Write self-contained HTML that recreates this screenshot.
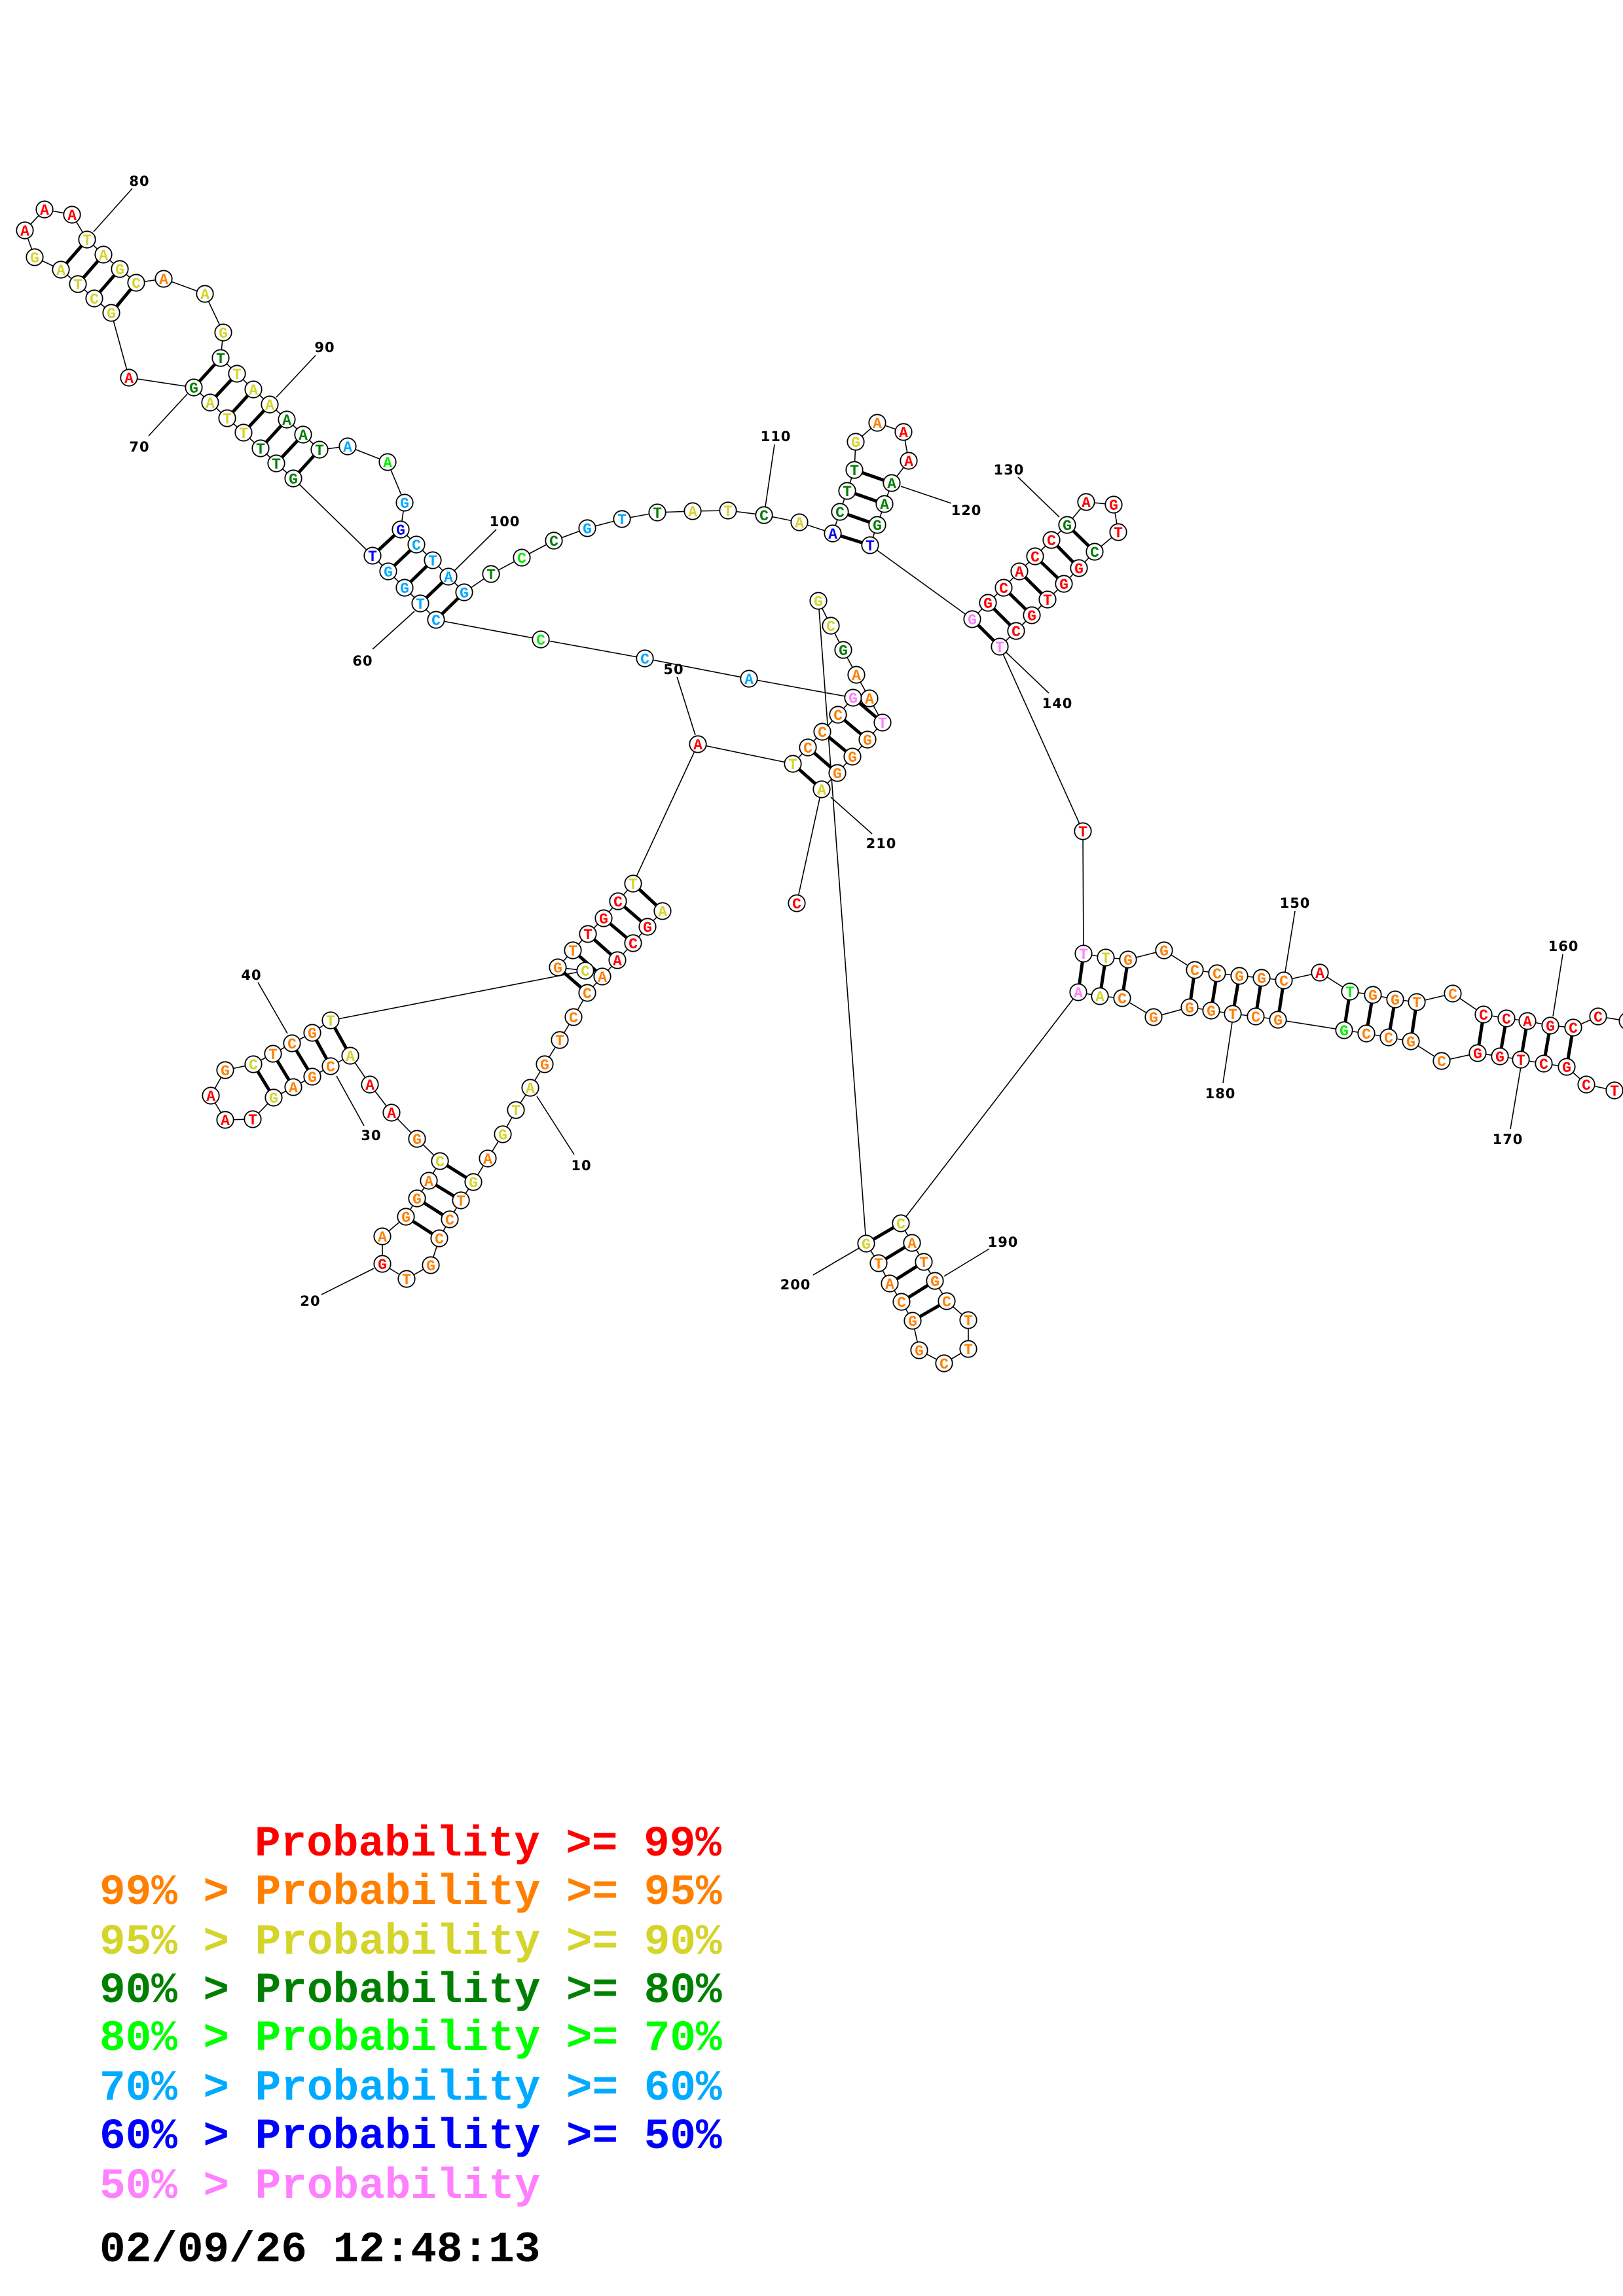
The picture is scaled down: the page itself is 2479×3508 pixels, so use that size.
<!DOCTYPE html>
<html><head><meta charset="utf-8"><style>
html,body{margin:0;padding:0;background:#fff;}
svg{display:block;}
.bb{fill:none;stroke:#000;stroke-width:1.6;}
.pr line{stroke:#000;stroke-width:5;}
.lb line{stroke:#000;stroke-width:1.6;}
circle{fill:#fff;stroke:#000;stroke-width:1.8;}
.n text{font-family:"Liberation Mono",monospace;font-weight:bold;font-size:23px;text-anchor:middle;}
.r{fill:#ff0000}.o{fill:#ff8000}.y{fill:#d4d42a}.g{fill:#008000}.l{fill:#00ee00}.c{fill:#00aaff}.b{fill:#0000ff}.p{fill:#ff80ff}
.lt{font-family:"DejaVu Sans","Liberation Sans",sans-serif;font-weight:bold;font-size:21px;text-anchor:middle;letter-spacing:1px;}
.lg{font-family:"Liberation Mono",monospace;font-weight:bold;font-size:66px;}
</style></head><body>
<svg width="2479" height="3508" viewBox="0 0 2479 3508" xmlns="http://www.w3.org/2000/svg">
<rect width="2479" height="3508" fill="#fff"/>
<polyline class="bb" points="1012,1392 989,1416 967,1441 943,1467 920,1492 897,1517 876,1554 855,1589 832,1626 810,1662 788,1696 768,1733 745,1770 723,1806 704,1834 687,1863 671,1892 658,1933 621,1954 584,1931 584,1889 620,1859 637,1831 655,1804 672,1774 637,1740 598,1700 565,1657 535,1613 505,1629 477,1645 448,1661 418,1677 386,1710 344,1711 322,1674 344,1635 387,1626 417,1610 446,1594 477,1578 505,1559 894,1483 852,1478 875,1452 898,1427 922,1403 944,1377 967,1350 1066,1137 1211,1167 1234,1142 1256,1118 1280,1092 1303,1066 1144,1037 985,1006 826,977 666,947 642,922 618,898 593,873 569,849 448,731 422,708 398,685 372,661 347,639 321,615 296,592 197,577 170,478 144,456 119,434 93,412 53,393 38,352 68,320 110,328 133,366 158,389 183,411 208,432 250,426 313,449 341,508 337,547 362,571 387,595 412,618 438,641 463,664 488,687 531,682 592,706 618,768 612,809 636,832 661,856 685,881 709,905 750,877 797,852 846,826 897,807 950,793 1004,783 1058,781 1112,780 1167,787 1221,798 1272,815 1283,782 1294,750 1305,718 1307,675 1340,646 1380,660 1388,704 1362,738 1351,770 1340,802 1329,833 1485,946 1509,921 1533,898 1557,873 1581,850 1606,825 1630,802 1659,767 1701,771 1708,813 1672,843 1648,868 1625,892 1600,916 1576,940 1552,964 1527,988 1654,1270 1655,1457 1689,1463 1723,1466 1778,1452 1825,1482 1859,1487 1893,1491 1927,1494 1961,1498 2016,1486 2062,1515 2097,1520 2131,1527 2164,1531 2219,1518 2266,1550 2301,1556 2333,1560 2368,1567 2403,1570 2441,1553 2486,1560 2525,1610 2505,1672 2466,1666 2423,1657 2393,1630 2358,1625 2323,1619 2291,1614 2257,1609 2202,1621 2155,1591 2121,1585 2087,1579 2053,1574 1952,1558 1918,1553 1883,1549 1850,1544 1817,1539 1762,1554 1714,1525 1680,1522 1647,1516 1376,1869 1393,1899 1411,1928 1428,1957 1446,1988 1479,2017 1479,2061 1442,2083 1404,2063 1394,2018 1377,1989 1359,1961 1342,1930 1323,1900 1250,918 1269,956 1288,993 1308,1031 1328,1067 1348,1104 1325,1130 1302,1156 1279,1181 1255,1206 1217,1380"/>
<g class="pr">
<line x1="1012" y1="1392" x2="967" y2="1350"/><line x1="989" y1="1416" x2="944" y2="1377"/><line x1="967" y1="1441" x2="922" y2="1403"/><line x1="943" y1="1467" x2="898" y2="1427"/><line x1="920" y1="1492" x2="875" y2="1452"/><line x1="897" y1="1517" x2="852" y2="1478"/>
<line x1="723" y1="1806" x2="672" y2="1774"/><line x1="704" y1="1834" x2="655" y2="1804"/><line x1="687" y1="1863" x2="637" y2="1831"/><line x1="671" y1="1892" x2="620" y2="1859"/>
<line x1="535" y1="1613" x2="505" y2="1559"/><line x1="505" y1="1629" x2="477" y2="1578"/><line x1="477" y1="1645" x2="446" y2="1594"/><line x1="448" y1="1661" x2="417" y2="1610"/><line x1="418" y1="1677" x2="387" y2="1626"/>
<line x1="1211" y1="1167" x2="1255" y2="1206"/><line x1="1234" y1="1142" x2="1279" y2="1181"/><line x1="1256" y1="1118" x2="1302" y2="1156"/><line x1="1280" y1="1092" x2="1325" y2="1130"/><line x1="1303" y1="1066" x2="1348" y2="1104"/>
<line x1="666" y1="947" x2="709" y2="905"/><line x1="642" y1="922" x2="685" y2="881"/><line x1="618" y1="898" x2="661" y2="856"/><line x1="593" y1="873" x2="636" y2="832"/><line x1="569" y1="849" x2="612" y2="809"/>
<line x1="448" y1="731" x2="488" y2="687"/><line x1="422" y1="708" x2="463" y2="664"/><line x1="398" y1="685" x2="438" y2="641"/><line x1="372" y1="661" x2="412" y2="618"/><line x1="347" y1="639" x2="387" y2="595"/><line x1="321" y1="615" x2="362" y2="571"/><line x1="296" y1="592" x2="337" y2="547"/>
<line x1="170" y1="478" x2="208" y2="432"/><line x1="144" y1="456" x2="183" y2="411"/><line x1="119" y1="434" x2="158" y2="389"/><line x1="93" y1="412" x2="133" y2="366"/>
<line x1="1272" y1="815" x2="1329" y2="833"/><line x1="1283" y1="782" x2="1340" y2="802"/><line x1="1294" y1="750" x2="1351" y2="770"/><line x1="1305" y1="718" x2="1362" y2="738"/>
<line x1="1485" y1="946" x2="1527" y2="988"/><line x1="1509" y1="921" x2="1552" y2="964"/><line x1="1533" y1="898" x2="1576" y2="940"/><line x1="1557" y1="873" x2="1600" y2="916"/><line x1="1581" y1="850" x2="1625" y2="892"/><line x1="1606" y1="825" x2="1648" y2="868"/><line x1="1630" y1="802" x2="1672" y2="843"/>
<line x1="1655" y1="1457" x2="1647" y2="1516"/><line x1="1689" y1="1463" x2="1680" y2="1522"/><line x1="1723" y1="1466" x2="1714" y2="1525"/><line x1="1825" y1="1482" x2="1817" y2="1539"/><line x1="1859" y1="1487" x2="1850" y2="1544"/><line x1="1893" y1="1491" x2="1883" y2="1549"/><line x1="1927" y1="1494" x2="1918" y2="1553"/><line x1="1961" y1="1498" x2="1952" y2="1558"/>
<line x1="2062" y1="1515" x2="2053" y2="1574"/><line x1="2097" y1="1520" x2="2087" y2="1579"/><line x1="2131" y1="1527" x2="2121" y2="1585"/><line x1="2164" y1="1531" x2="2155" y2="1591"/>
<line x1="2266" y1="1550" x2="2257" y2="1609"/><line x1="2301" y1="1556" x2="2291" y2="1614"/><line x1="2333" y1="1560" x2="2323" y2="1619"/><line x1="2368" y1="1567" x2="2358" y2="1625"/><line x1="2403" y1="1570" x2="2393" y2="1630"/>
<line x1="1376" y1="1869" x2="1323" y2="1900"/><line x1="1393" y1="1899" x2="1342" y2="1930"/><line x1="1411" y1="1928" x2="1359" y2="1961"/><line x1="1428" y1="1957" x2="1377" y2="1989"/><line x1="1446" y1="1988" x2="1394" y2="2018"/>
</g>
<g class="lb">
<line x1="877" y1="1764" x2="820" y2="1675"/><line x1="491" y1="1978" x2="571" y2="1938"/><line x1="556" y1="1720" x2="514" y2="1644"/><line x1="394" y1="1501" x2="439" y2="1579"/><line x1="1034" y1="1034" x2="1062" y2="1123"/><line x1="569" y1="992" x2="633" y2="934"/><line x1="227" y1="666" x2="286" y2="602"/><line x1="202" y1="288" x2="143" y2="354"/><line x1="482" y1="543" x2="422" y2="607"/><line x1="758" y1="809" x2="694" y2="872"/><line x1="1183" y1="679" x2="1169" y2="774"/><line x1="1453" y1="769" x2="1376" y2="743"/><line x1="1555" y1="729" x2="1618" y2="790"/><line x1="1602" y1="1059" x2="1535" y2="995"/><line x1="1978" y1="1392" x2="1963" y2="1485"/><line x1="2387" y1="1458" x2="2372" y2="1553"/><line x1="2307" y1="1725" x2="2323" y2="1630"/><line x1="1868" y1="1655" x2="1882" y2="1562"/><line x1="1511" y1="1908" x2="1442" y2="1950"/><line x1="1242" y1="1948" x2="1312" y2="1907"/><line x1="1332" y1="1274" x2="1269" y2="1218"/>
</g>
<g class="lt">
<text x="888" y="1788">10</text><text x="474" y="1995">20</text><text x="567" y="1742">30</text><text x="384" y="1497">40</text><text x="1029" y="1030">50</text><text x="554" y="1017">60</text><text x="213" y="690">70</text><text x="213" y="284">80</text><text x="496" y="538">90</text><text x="771" y="804">100</text><text x="1185" y="674">110</text><text x="1476" y="787">120</text><text x="1541" y="725">130</text><text x="1615" y="1082">140</text><text x="1978" y="1387">150</text><text x="2388" y="1453">160</text><text x="2303" y="1748">170</text><text x="1864" y="1678">180</text><text x="1532" y="1905">190</text><text x="1215" y="1970">200</text><text x="1346" y="1296">210</text>
</g>
<g class="n">
<circle cx="1012" cy="1392" r="12.7"/><text class="y" x="1012" y="1400">A</text>
<circle cx="989" cy="1416" r="12.7"/><text class="r" x="989" y="1424">G</text>
<circle cx="967" cy="1441" r="12.7"/><text class="r" x="967" y="1449">C</text>
<circle cx="943" cy="1467" r="12.7"/><text class="r" x="943" y="1475">A</text>
<circle cx="920" cy="1492" r="12.7"/><text class="o" x="920" y="1500">A</text>
<circle cx="897" cy="1517" r="12.7"/><text class="o" x="897" y="1525">C</text>
<circle cx="876" cy="1554" r="12.7"/><text class="o" x="876" y="1562">C</text>
<circle cx="855" cy="1589" r="12.7"/><text class="o" x="855" y="1597">T</text>
<circle cx="832" cy="1626" r="12.7"/><text class="o" x="832" y="1634">G</text>
<circle cx="810" cy="1662" r="12.7"/><text class="y" x="810" y="1670">A</text>
<circle cx="788" cy="1696" r="12.7"/><text class="y" x="788" y="1704">T</text>
<circle cx="768" cy="1733" r="12.7"/><text class="y" x="768" y="1741">G</text>
<circle cx="745" cy="1770" r="12.7"/><text class="o" x="745" y="1778">A</text>
<circle cx="723" cy="1806" r="12.7"/><text class="y" x="723" y="1814">G</text>
<circle cx="704" cy="1834" r="12.7"/><text class="o" x="704" y="1842">T</text>
<circle cx="687" cy="1863" r="12.7"/><text class="o" x="687" y="1871">C</text>
<circle cx="671" cy="1892" r="12.7"/><text class="o" x="671" y="1900">C</text>
<circle cx="658" cy="1933" r="12.7"/><text class="o" x="658" y="1941">G</text>
<circle cx="621" cy="1954" r="12.7"/><text class="o" x="621" y="1962">T</text>
<circle cx="584" cy="1931" r="12.7"/><text class="r" x="584" y="1939">G</text>
<circle cx="584" cy="1889" r="12.7"/><text class="o" x="584" y="1897">A</text>
<circle cx="620" cy="1859" r="12.7"/><text class="o" x="620" y="1867">G</text>
<circle cx="637" cy="1831" r="12.7"/><text class="o" x="637" y="1839">G</text>
<circle cx="655" cy="1804" r="12.7"/><text class="o" x="655" y="1812">A</text>
<circle cx="672" cy="1774" r="12.7"/><text class="y" x="672" y="1782">C</text>
<circle cx="637" cy="1740" r="12.7"/><text class="o" x="637" y="1748">G</text>
<circle cx="598" cy="1700" r="12.7"/><text class="r" x="598" y="1708">A</text>
<circle cx="565" cy="1657" r="12.7"/><text class="r" x="565" y="1665">A</text>
<circle cx="535" cy="1613" r="12.7"/><text class="y" x="535" y="1621">A</text>
<circle cx="505" cy="1629" r="12.7"/><text class="o" x="505" y="1637">C</text>
<circle cx="477" cy="1645" r="12.7"/><text class="o" x="477" y="1653">G</text>
<circle cx="448" cy="1661" r="12.7"/><text class="o" x="448" y="1669">A</text>
<circle cx="418" cy="1677" r="12.7"/><text class="y" x="418" y="1685">G</text>
<circle cx="386" cy="1710" r="12.7"/><text class="r" x="386" y="1718">T</text>
<circle cx="344" cy="1711" r="12.7"/><text class="r" x="344" y="1719">A</text>
<circle cx="322" cy="1674" r="12.7"/><text class="r" x="322" y="1682">A</text>
<circle cx="344" cy="1635" r="12.7"/><text class="o" x="344" y="1643">G</text>
<circle cx="387" cy="1626" r="12.7"/><text class="y" x="387" y="1634">C</text>
<circle cx="417" cy="1610" r="12.7"/><text class="o" x="417" y="1618">T</text>
<circle cx="446" cy="1594" r="12.7"/><text class="o" x="446" y="1602">C</text>
<circle cx="477" cy="1578" r="12.7"/><text class="o" x="477" y="1586">G</text>
<circle cx="505" cy="1559" r="12.7"/><text class="y" x="505" y="1567">T</text>
<circle cx="894" cy="1483" r="12.7"/><text class="y" x="894" y="1491">C</text>
<circle cx="852" cy="1478" r="12.7"/><text class="o" x="852" y="1486">G</text>
<circle cx="875" cy="1452" r="12.7"/><text class="o" x="875" y="1460">T</text>
<circle cx="898" cy="1427" r="12.7"/><text class="r" x="898" y="1435">T</text>
<circle cx="922" cy="1403" r="12.7"/><text class="r" x="922" y="1411">G</text>
<circle cx="944" cy="1377" r="12.7"/><text class="r" x="944" y="1385">C</text>
<circle cx="967" cy="1350" r="12.7"/><text class="y" x="967" y="1358">T</text>
<circle cx="1066" cy="1137" r="12.7"/><text class="r" x="1066" y="1145">A</text>
<circle cx="1211" cy="1167" r="12.7"/><text class="y" x="1211" y="1175">T</text>
<circle cx="1234" cy="1142" r="12.7"/><text class="o" x="1234" y="1150">C</text>
<circle cx="1256" cy="1118" r="12.7"/><text class="o" x="1256" y="1126">C</text>
<circle cx="1280" cy="1092" r="12.7"/><text class="o" x="1280" y="1100">C</text>
<circle cx="1303" cy="1066" r="12.7"/><text class="p" x="1303" y="1074">G</text>
<circle cx="1144" cy="1037" r="12.7"/><text class="c" x="1144" y="1045">A</text>
<circle cx="985" cy="1006" r="12.7"/><text class="c" x="985" y="1014">C</text>
<circle cx="826" cy="977" r="12.7"/><text class="l" x="826" y="985">C</text>
<circle cx="666" cy="947" r="12.7"/><text class="c" x="666" y="955">C</text>
<circle cx="642" cy="922" r="12.7"/><text class="c" x="642" y="930">T</text>
<circle cx="618" cy="898" r="12.7"/><text class="c" x="618" y="906">G</text>
<circle cx="593" cy="873" r="12.7"/><text class="c" x="593" y="881">G</text>
<circle cx="569" cy="849" r="12.7"/><text class="b" x="569" y="857">T</text>
<circle cx="448" cy="731" r="12.7"/><text class="g" x="448" y="739">G</text>
<circle cx="422" cy="708" r="12.7"/><text class="g" x="422" y="716">T</text>
<circle cx="398" cy="685" r="12.7"/><text class="g" x="398" y="693">T</text>
<circle cx="372" cy="661" r="12.7"/><text class="y" x="372" y="669">T</text>
<circle cx="347" cy="639" r="12.7"/><text class="y" x="347" y="647">T</text>
<circle cx="321" cy="615" r="12.7"/><text class="y" x="321" y="623">A</text>
<circle cx="296" cy="592" r="12.7"/><text class="g" x="296" y="600">G</text>
<circle cx="197" cy="577" r="12.7"/><text class="r" x="197" y="585">A</text>
<circle cx="170" cy="478" r="12.7"/><text class="y" x="170" y="486">G</text>
<circle cx="144" cy="456" r="12.7"/><text class="y" x="144" y="464">C</text>
<circle cx="119" cy="434" r="12.7"/><text class="y" x="119" y="442">T</text>
<circle cx="93" cy="412" r="12.7"/><text class="y" x="93" y="420">A</text>
<circle cx="53" cy="393" r="12.7"/><text class="y" x="53" y="401">G</text>
<circle cx="38" cy="352" r="12.7"/><text class="r" x="38" y="360">A</text>
<circle cx="68" cy="320" r="12.7"/><text class="r" x="68" y="328">A</text>
<circle cx="110" cy="328" r="12.7"/><text class="r" x="110" y="336">A</text>
<circle cx="133" cy="366" r="12.7"/><text class="y" x="133" y="374">T</text>
<circle cx="158" cy="389" r="12.7"/><text class="y" x="158" y="397">A</text>
<circle cx="183" cy="411" r="12.7"/><text class="y" x="183" y="419">G</text>
<circle cx="208" cy="432" r="12.7"/><text class="y" x="208" y="440">C</text>
<circle cx="250" cy="426" r="12.7"/><text class="o" x="250" y="434">A</text>
<circle cx="313" cy="449" r="12.7"/><text class="y" x="313" y="457">A</text>
<circle cx="341" cy="508" r="12.7"/><text class="y" x="341" y="516">G</text>
<circle cx="337" cy="547" r="12.7"/><text class="g" x="337" y="555">T</text>
<circle cx="362" cy="571" r="12.7"/><text class="y" x="362" y="579">T</text>
<circle cx="387" cy="595" r="12.7"/><text class="y" x="387" y="603">A</text>
<circle cx="412" cy="618" r="12.7"/><text class="y" x="412" y="626">A</text>
<circle cx="438" cy="641" r="12.7"/><text class="g" x="438" y="649">A</text>
<circle cx="463" cy="664" r="12.7"/><text class="g" x="463" y="672">A</text>
<circle cx="488" cy="687" r="12.7"/><text class="g" x="488" y="695">T</text>
<circle cx="531" cy="682" r="12.7"/><text class="c" x="531" y="690">A</text>
<circle cx="592" cy="706" r="12.7"/><text class="l" x="592" y="714">A</text>
<circle cx="618" cy="768" r="12.7"/><text class="c" x="618" y="776">G</text>
<circle cx="612" cy="809" r="12.7"/><text class="b" x="612" y="817">G</text>
<circle cx="636" cy="832" r="12.7"/><text class="c" x="636" y="840">C</text>
<circle cx="661" cy="856" r="12.7"/><text class="c" x="661" y="864">T</text>
<circle cx="685" cy="881" r="12.7"/><text class="c" x="685" y="889">A</text>
<circle cx="709" cy="905" r="12.7"/><text class="c" x="709" y="913">G</text>
<circle cx="750" cy="877" r="12.7"/><text class="g" x="750" y="885">T</text>
<circle cx="797" cy="852" r="12.7"/><text class="l" x="797" y="860">C</text>
<circle cx="846" cy="826" r="12.7"/><text class="g" x="846" y="834">C</text>
<circle cx="897" cy="807" r="12.7"/><text class="c" x="897" y="815">G</text>
<circle cx="950" cy="793" r="12.7"/><text class="c" x="950" y="801">T</text>
<circle cx="1004" cy="783" r="12.7"/><text class="g" x="1004" y="791">T</text>
<circle cx="1058" cy="781" r="12.7"/><text class="y" x="1058" y="789">A</text>
<circle cx="1112" cy="780" r="12.7"/><text class="y" x="1112" y="788">T</text>
<circle cx="1167" cy="787" r="12.7"/><text class="g" x="1167" y="795">C</text>
<circle cx="1221" cy="798" r="12.7"/><text class="y" x="1221" y="806">A</text>
<circle cx="1272" cy="815" r="12.7"/><text class="b" x="1272" y="823">A</text>
<circle cx="1283" cy="782" r="12.7"/><text class="g" x="1283" y="790">C</text>
<circle cx="1294" cy="750" r="12.7"/><text class="g" x="1294" y="758">T</text>
<circle cx="1305" cy="718" r="12.7"/><text class="g" x="1305" y="726">T</text>
<circle cx="1307" cy="675" r="12.7"/><text class="y" x="1307" y="683">G</text>
<circle cx="1340" cy="646" r="12.7"/><text class="o" x="1340" y="654">A</text>
<circle cx="1380" cy="660" r="12.7"/><text class="r" x="1380" y="668">A</text>
<circle cx="1388" cy="704" r="12.7"/><text class="r" x="1388" y="712">A</text>
<circle cx="1362" cy="738" r="12.7"/><text class="g" x="1362" y="746">A</text>
<circle cx="1351" cy="770" r="12.7"/><text class="g" x="1351" y="778">A</text>
<circle cx="1340" cy="802" r="12.7"/><text class="g" x="1340" y="810">G</text>
<circle cx="1329" cy="833" r="12.7"/><text class="b" x="1329" y="841">T</text>
<circle cx="1485" cy="946" r="12.7"/><text class="p" x="1485" y="954">G</text>
<circle cx="1509" cy="921" r="12.7"/><text class="r" x="1509" y="929">G</text>
<circle cx="1533" cy="898" r="12.7"/><text class="r" x="1533" y="906">C</text>
<circle cx="1557" cy="873" r="12.7"/><text class="r" x="1557" y="881">A</text>
<circle cx="1581" cy="850" r="12.7"/><text class="r" x="1581" y="858">C</text>
<circle cx="1606" cy="825" r="12.7"/><text class="r" x="1606" y="833">C</text>
<circle cx="1630" cy="802" r="12.7"/><text class="g" x="1630" y="810">G</text>
<circle cx="1659" cy="767" r="12.7"/><text class="r" x="1659" y="775">A</text>
<circle cx="1701" cy="771" r="12.7"/><text class="r" x="1701" y="779">G</text>
<circle cx="1708" cy="813" r="12.7"/><text class="r" x="1708" y="821">T</text>
<circle cx="1672" cy="843" r="12.7"/><text class="g" x="1672" y="851">C</text>
<circle cx="1648" cy="868" r="12.7"/><text class="r" x="1648" y="876">G</text>
<circle cx="1625" cy="892" r="12.7"/><text class="r" x="1625" y="900">G</text>
<circle cx="1600" cy="916" r="12.7"/><text class="r" x="1600" y="924">T</text>
<circle cx="1576" cy="940" r="12.7"/><text class="r" x="1576" y="948">G</text>
<circle cx="1552" cy="964" r="12.7"/><text class="r" x="1552" y="972">C</text>
<circle cx="1527" cy="988" r="12.7"/><text class="p" x="1527" y="996">T</text>
<circle cx="1654" cy="1270" r="12.7"/><text class="r" x="1654" y="1278">T</text>
<circle cx="1655" cy="1457" r="12.7"/><text class="p" x="1655" y="1465">T</text>
<circle cx="1689" cy="1463" r="12.7"/><text class="y" x="1689" y="1471">T</text>
<circle cx="1723" cy="1466" r="12.7"/><text class="o" x="1723" y="1474">G</text>
<circle cx="1778" cy="1452" r="12.7"/><text class="o" x="1778" y="1460">G</text>
<circle cx="1825" cy="1482" r="12.7"/><text class="o" x="1825" y="1490">C</text>
<circle cx="1859" cy="1487" r="12.7"/><text class="o" x="1859" y="1495">C</text>
<circle cx="1893" cy="1491" r="12.7"/><text class="o" x="1893" y="1499">G</text>
<circle cx="1927" cy="1494" r="12.7"/><text class="o" x="1927" y="1502">G</text>
<circle cx="1961" cy="1498" r="12.7"/><text class="o" x="1961" y="1506">C</text>
<circle cx="2016" cy="1486" r="12.7"/><text class="r" x="2016" y="1494">A</text>
<circle cx="2062" cy="1515" r="12.7"/><text class="l" x="2062" y="1523">T</text>
<circle cx="2097" cy="1520" r="12.7"/><text class="o" x="2097" y="1528">G</text>
<circle cx="2131" cy="1527" r="12.7"/><text class="o" x="2131" y="1535">G</text>
<circle cx="2164" cy="1531" r="12.7"/><text class="o" x="2164" y="1539">T</text>
<circle cx="2219" cy="1518" r="12.7"/><text class="o" x="2219" y="1526">C</text>
<circle cx="2266" cy="1550" r="12.7"/><text class="r" x="2266" y="1558">C</text>
<circle cx="2301" cy="1556" r="12.7"/><text class="r" x="2301" y="1564">C</text>
<circle cx="2333" cy="1560" r="12.7"/><text class="r" x="2333" y="1568">A</text>
<circle cx="2368" cy="1567" r="12.7"/><text class="r" x="2368" y="1575">G</text>
<circle cx="2403" cy="1570" r="12.7"/><text class="r" x="2403" y="1578">C</text>
<circle cx="2441" cy="1553" r="12.7"/><text class="r" x="2441" y="1561">C</text>
<circle cx="2486" cy="1560" r="12.7"/><text class="r" x="2486" y="1568">C</text>
<circle cx="2505" cy="1672" r="12.7"/><text class="r" x="2505" y="1680">G</text>
<circle cx="2466" cy="1666" r="12.7"/><text class="r" x="2466" y="1674">T</text>
<circle cx="2423" cy="1657" r="12.7"/><text class="r" x="2423" y="1665">C</text>
<circle cx="2393" cy="1630" r="12.7"/><text class="r" x="2393" y="1638">G</text>
<circle cx="2358" cy="1625" r="12.7"/><text class="r" x="2358" y="1633">C</text>
<circle cx="2323" cy="1619" r="12.7"/><text class="r" x="2323" y="1627">T</text>
<circle cx="2291" cy="1614" r="12.7"/><text class="r" x="2291" y="1622">G</text>
<circle cx="2257" cy="1609" r="12.7"/><text class="r" x="2257" y="1617">G</text>
<circle cx="2202" cy="1621" r="12.7"/><text class="o" x="2202" y="1629">C</text>
<circle cx="2155" cy="1591" r="12.7"/><text class="o" x="2155" y="1599">G</text>
<circle cx="2121" cy="1585" r="12.7"/><text class="o" x="2121" y="1593">C</text>
<circle cx="2087" cy="1579" r="12.7"/><text class="o" x="2087" y="1587">C</text>
<circle cx="2053" cy="1574" r="12.7"/><text class="l" x="2053" y="1582">G</text>
<circle cx="1952" cy="1558" r="12.7"/><text class="o" x="1952" y="1566">G</text>
<circle cx="1918" cy="1553" r="12.7"/><text class="o" x="1918" y="1561">C</text>
<circle cx="1883" cy="1549" r="12.7"/><text class="o" x="1883" y="1557">T</text>
<circle cx="1850" cy="1544" r="12.7"/><text class="o" x="1850" y="1552">G</text>
<circle cx="1817" cy="1539" r="12.7"/><text class="o" x="1817" y="1547">G</text>
<circle cx="1762" cy="1554" r="12.7"/><text class="o" x="1762" y="1562">G</text>
<circle cx="1714" cy="1525" r="12.7"/><text class="o" x="1714" y="1533">C</text>
<circle cx="1680" cy="1522" r="12.7"/><text class="y" x="1680" y="1530">A</text>
<circle cx="1647" cy="1516" r="12.7"/><text class="p" x="1647" y="1524">A</text>
<circle cx="1376" cy="1869" r="12.7"/><text class="y" x="1376" y="1877">C</text>
<circle cx="1393" cy="1899" r="12.7"/><text class="o" x="1393" y="1907">A</text>
<circle cx="1411" cy="1928" r="12.7"/><text class="o" x="1411" y="1936">T</text>
<circle cx="1428" cy="1957" r="12.7"/><text class="o" x="1428" y="1965">G</text>
<circle cx="1446" cy="1988" r="12.7"/><text class="o" x="1446" y="1996">C</text>
<circle cx="1479" cy="2017" r="12.7"/><text class="o" x="1479" y="2025">T</text>
<circle cx="1479" cy="2061" r="12.7"/><text class="o" x="1479" y="2069">T</text>
<circle cx="1442" cy="2083" r="12.7"/><text class="o" x="1442" y="2091">C</text>
<circle cx="1404" cy="2063" r="12.7"/><text class="o" x="1404" y="2071">G</text>
<circle cx="1394" cy="2018" r="12.7"/><text class="o" x="1394" y="2026">G</text>
<circle cx="1377" cy="1989" r="12.7"/><text class="o" x="1377" y="1997">C</text>
<circle cx="1359" cy="1961" r="12.7"/><text class="o" x="1359" y="1969">A</text>
<circle cx="1342" cy="1930" r="12.7"/><text class="o" x="1342" y="1938">T</text>
<circle cx="1323" cy="1900" r="12.7"/><text class="y" x="1323" y="1908">G</text>
<circle cx="1250" cy="918" r="12.7"/><text class="y" x="1250" y="926">G</text>
<circle cx="1269" cy="956" r="12.7"/><text class="y" x="1269" y="964">C</text>
<circle cx="1288" cy="993" r="12.7"/><text class="g" x="1288" y="1001">G</text>
<circle cx="1308" cy="1031" r="12.7"/><text class="o" x="1308" y="1039">A</text>
<circle cx="1328" cy="1067" r="12.7"/><text class="o" x="1328" y="1075">A</text>
<circle cx="1348" cy="1104" r="12.7"/><text class="p" x="1348" y="1112">T</text>
<circle cx="1325" cy="1130" r="12.7"/><text class="o" x="1325" y="1138">G</text>
<circle cx="1302" cy="1156" r="12.7"/><text class="o" x="1302" y="1164">G</text>
<circle cx="1279" cy="1181" r="12.7"/><text class="o" x="1279" y="1189">G</text>
<circle cx="1255" cy="1206" r="12.7"/><text class="y" x="1255" y="1214">A</text>
<circle cx="1217" cy="1380" r="12.7"/><text class="r" x="1217" y="1388">C</text>
</g>
<g class="lg" xml:space="preserve">
<text x="389" y="2835" fill="#ff0000">Probability &gt;= 99%</text>
<text x="152" y="2909" fill="#ff8000">99% &gt; Probability &gt;= 95%</text>
<text x="152" y="2985" fill="#d4d42a">95% &gt; Probability &gt;= 90%</text>
<text x="152" y="3059" fill="#008000">90% &gt; Probability &gt;= 80%</text>
<text x="152" y="3132" fill="#00ff00">80% &gt; Probability &gt;= 70%</text>
<text x="152" y="3208" fill="#00aaff">70% &gt; Probability &gt;= 60%</text>
<text x="152" y="3282" fill="#0000ff">60% &gt; Probability &gt;= 50%</text>
<text x="152" y="3358" fill="#ff80ff">50% &gt; Probability</text>
<text x="152" y="3455" fill="#000000">02/09/26 12:48:13</text>
</g>
</svg>
</body></html>
